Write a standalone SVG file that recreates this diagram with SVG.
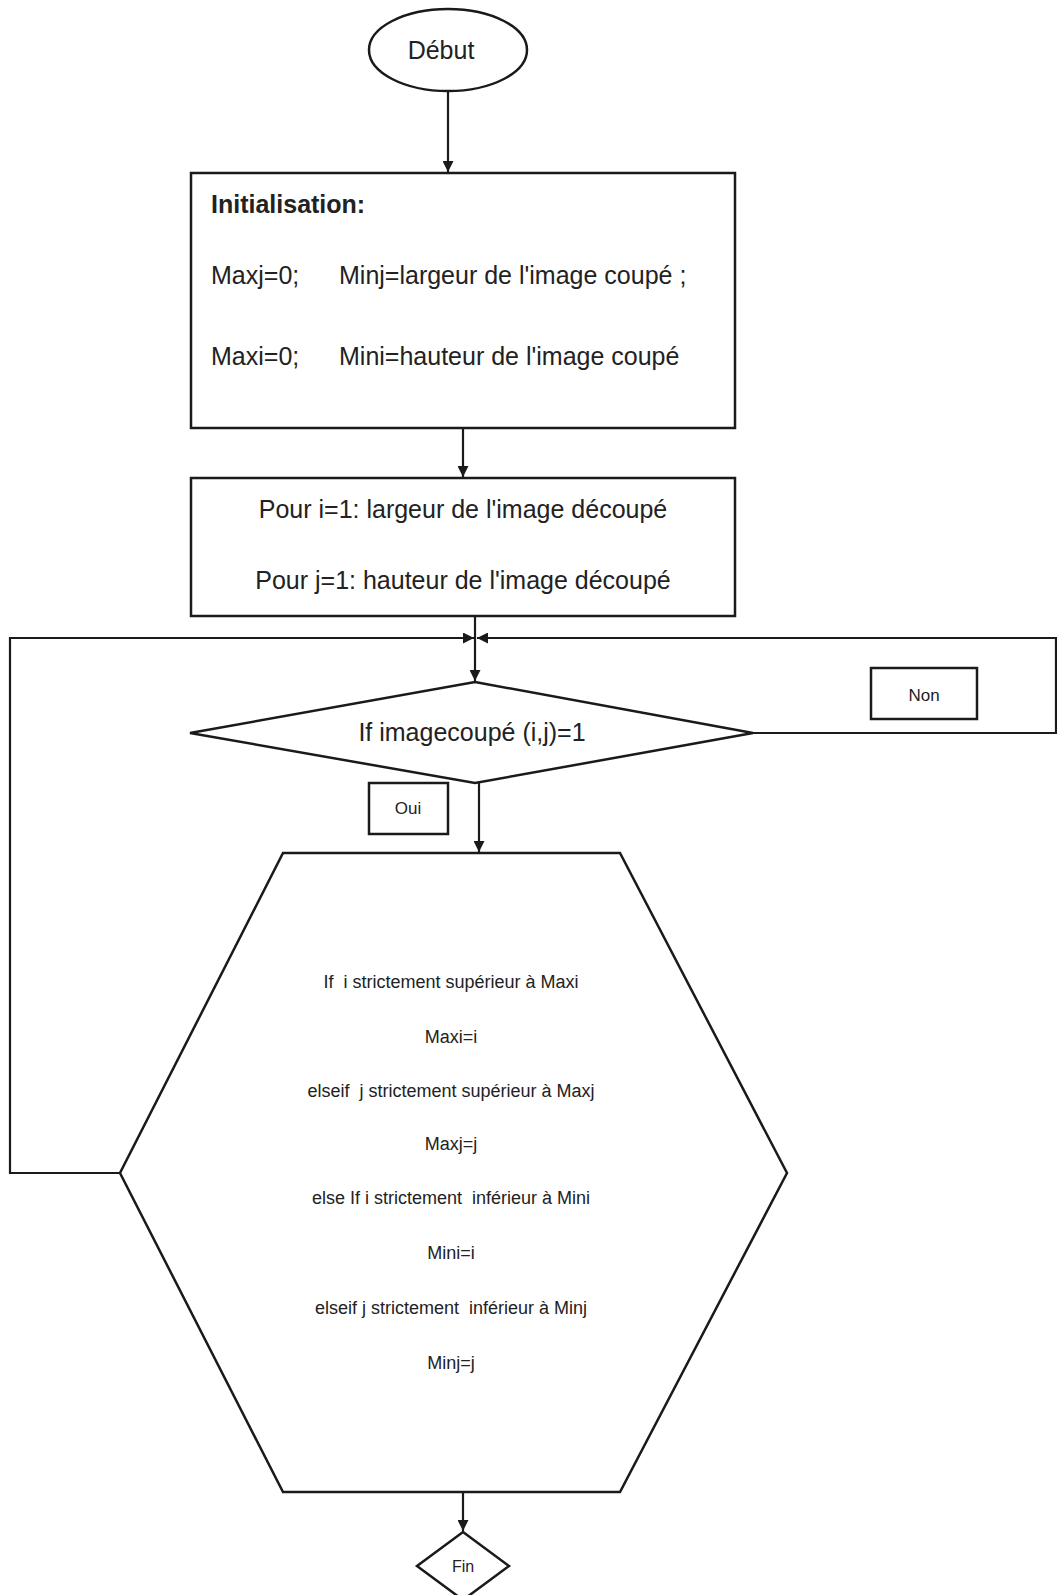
<svg xmlns="http://www.w3.org/2000/svg" width="1057" height="1595" viewBox="0 0 1057 1595">
  <style>
    .shape { fill: #ffffff; stroke: #1a1a1a; stroke-width: 2.5; }
    .line { fill: none; stroke: #1a1a1a; stroke-width: 2.2; }
    text { font-family: "Liberation Sans", Arial, sans-serif; fill: #222222; white-space: pre; }
    .big { font-size: 25px; }
    .bold { font-weight: bold; }
    .mid { text-anchor: middle; }
    .small { font-size: 17px; }
    .hex { font-size: 18px; text-anchor: middle; }
  </style>
  <defs>
    <marker id="arrow" viewBox="0 0 10 10" refX="10" refY="5" markerWidth="11" markerHeight="11" markerUnits="userSpaceOnUse" orient="auto">
      <path d="M0,0 L10,5 L0,10 z" fill="#1a1a1a"/>
    </marker>
  </defs>
  <rect width="1057" height="1595" fill="#ffffff"/>

  <!-- connectors -->
  <g id="connectors">
    <line class="line" x1="448" y1="91" x2="448" y2="172" marker-end="url(#arrow)"/>
    <line class="line" x1="463" y1="428" x2="463" y2="477" marker-end="url(#arrow)"/>
    <line class="line" x1="475" y1="616" x2="475" y2="681" marker-end="url(#arrow)"/>
    <line class="line" x1="479" y1="783" x2="479" y2="852" marker-end="url(#arrow)"/>
    <line class="line" x1="463" y1="1492" x2="463" y2="1531" marker-end="url(#arrow)"/>
    <!-- loop back from the process block -->
    <polyline class="line" points="120,1173 10,1173 10,638 474,638" marker-end="url(#arrow)"/>
    <!-- "Non" branch back to the loop -->
    <polyline class="line" points="753,733 1056,733 1056,638 477,638" marker-end="url(#arrow)"/>
  </g>

  <g id="debut">
    <ellipse class="shape" cx="448" cy="50" rx="79" ry="41"/>
    <text class="big mid" x="441" y="59">Début</text>
  </g>

  <g id="initialisation">
    <rect class="shape" x="191" y="173" width="544" height="255"/>
    <text class="big bold" x="211" y="213">Initialisation:</text>
    <text class="big" x="211" y="284">Maxj=0;</text>
    <text class="big" x="339" y="284">Minj=largeur de l'image coupé ;</text>
    <text class="big" x="211" y="365">Maxi=0;</text>
    <text class="big" x="339" y="365">Mini=hauteur de l'image coupé</text>
  </g>

  <g id="boucle">
    <rect class="shape" x="191" y="478" width="544" height="138"/>
    <text class="big mid" x="463" y="518">Pour i=1: largeur de l'image découpé</text>
    <text class="big mid" x="463" y="589">Pour j=1: hauteur de l'image découpé</text>
  </g>

  <g id="condition">
    <polygon class="shape" points="475,682 753,733 475,783 190,733"/>
    <text class="big mid" x="472" y="741">If imagecoupé (i,j)=1</text>
  </g>

  <g id="label-non">
    <rect class="shape" x="871" y="668" width="106" height="51"/>
    <text class="small mid" x="924" y="701">Non</text>
  </g>

  <g id="label-oui">
    <rect class="shape" x="369" y="783" width="79" height="51"/>
    <text class="small mid" x="408" y="814">Oui</text>
  </g>

  <g id="traitement">
    <polygon class="shape" points="283,853 620,853 787,1173 620,1492 283,1492 120,1173"/>
    <text class="hex" x="451" y="988">If  i strictement supérieur à Maxi</text>
    <text class="hex" x="451" y="1043">Maxi=i</text>
    <text class="hex" x="451" y="1097">elseif  j strictement supérieur à Maxj</text>
    <text class="hex" x="451" y="1150">Maxj=j</text>
    <text class="hex" x="451" y="1204">else If i strictement  inférieur à Mini</text>
    <text class="hex" x="451" y="1259">Mini=i</text>
    <text class="hex" x="451" y="1314">elseif j strictement  inférieur à Minj</text>
    <text class="hex" x="451" y="1369">Minj=j</text>
  </g>

  <g id="fin">
    <polygon class="shape" points="463,1532 509,1566 463,1600 417,1566"/>
    <text class="mid" style="font-size:16px" x="463" y="1572">Fin</text>
  </g>
</svg>
